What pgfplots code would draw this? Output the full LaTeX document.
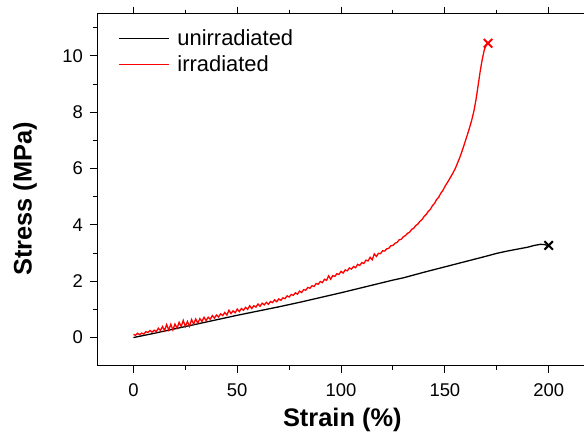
\documentclass[border=0pt]{standalone}
\usepackage{fontspec}
\setmainfont{Liberation Sans}
\usepackage{pgfplots}
\pgfplotsset{compat=1.18}
% long legend sample line, defined here so that #1 is not doubled inside the axis options
\pgfplotsset{longline/.style={legend image code/.code={\draw[#1] (0bp,0bp) -- (50bp,0bp); \path (56bp,0bp);}}}

\begin{document}
\begin{tikzpicture}[x=1bp,y=1bp]
\useasboundingbox (0,0) rectangle (584,434);
\begin{axis}[at={(97.3bp,68.3bp)}, anchor=south west, scale only axis,
  width=490bp, height=352bp,
  xmin=-17.4, xmax=218.6, ymin=-1, ymax=11.5,
  xtick={0,50,...,200}, minor xtick={25,75,...,175},
  ytick={0,2,...,10}, minor ytick={1,3,...,11},
  tick align=outside, major tick length=7bp, minor tick length=4bp,
  axis line style={line width=1bp}, every tick/.style={line width=1bp, black},
  /pgf/number format/assume math mode=true,
  tick label style={font=\fontsize{18.5}{20}\selectfont},
  xticklabel style={yshift=-7bp}, yticklabel style={xshift=-4bp},
  label style={font=\fontsize{25.5}{28}\selectfont\bfseries},
  xlabel={Strain (\%)}, ylabel={Stress (MPa)},
  xlabel style={at={(axis description cs:0.5,-0.174)}, anchor=base},
  ylabel style={at={(axis description cs:-0.1476,0.474)}, anchor=center},
  legend style={at={(axis description cs:0.036,0.9665)}, anchor=north west, draw=none, fill=none,
    font=\fontsize{22}{26}\selectfont, row sep=4.5bp},
  legend cell align=left,
  longline,
]
\addplot[black, line width=1.3bp] coordinates {
(0,0) (10,0.15) (20,0.31) (30,0.47) (40,0.63) (50,0.79) (60,0.94) (70,1.09) (75,1.17) (80,1.25)
(90,1.42) (100,1.59) (110,1.77) (120,1.95) (125,2.04) (130,2.12) (140,2.32) (150,2.51) (160,2.70)
(170,2.89) (175,2.99) (180,3.07) (185,3.14) (190,3.21) (193,3.27) (196,3.31) (198,3.30) (199.5,3.27)
};
\addlegendentry{unirradiated}
\addplot[red, line width=1.3bp] coordinates {
(0,0.11) (1,0.08) (2,0.15) (3,0.10) (4,0.16) (5,0.12) (6,0.21) (7,0.18) (8,0.25) (9,0.19) (10,0.26)
(11,0.21) (12,0.33) (13,0.25) (14,0.39) (15,0.25) (16,0.46) (17,0.27) (18,0.47) (19,0.27) (20,0.48)
(21,0.33) (22,0.54) (23,0.39) (24,0.61) (25,0.39) (26,0.57) (27,0.40) (28,0.64) (29,0.48) (30,0.66)
(31,0.51) (32,0.67) (33,0.57) (34,0.72) (35,0.60) (36,0.72) (37,0.65) (38,0.78) (39,0.69) (40,0.80)
(41,0.73) (42,0.84) (43,0.78) (44,0.89) (45,0.80) (46,0.97) (47,0.85) (48,0.95) (49,0.88) (50,1.01)
(51,0.92) (52,1.03) (53,0.97) (54,1.07) (55,1.00) (56,1.13) (57,1.03) (58,1.13) (59,1.08) (60,1.19)
(61,1.11) (62,1.22) (63,1.16) (64,1.25) (65,1.18) (66,1.28) (67,1.24) (68,1.34) (69,1.27) (70,1.37)
(71,1.32) (72,1.41) (73,1.38) (74,1.48) (75,1.44) (76,1.53) (77,1.50) (78,1.59) (79,1.54) (80,1.65)
(81,1.60) (82,1.70) (83,1.68) (84,1.78) (85,1.75) (86,1.84) (87,1.81) (88,1.92) (89,1.89) (90,1.99)
(91,1.95) (92,2.07) (93,2.03) (94,2.19) (95,2.07) (96,2.20) (97,2.17) (98,2.27) (99,2.24) (100,2.35)
(101,2.29) (102,2.40) (103,2.37) (104,2.47) (105,2.43) (106,2.52) (107,2.48) (108,2.60) (109,2.56) (110,2.66)
(111,2.63) (112,2.75) (113,2.72) (114,2.85) (115,2.76) (116,2.97) (117,2.88) (118,2.99) (119,2.98) (120,3.08)
(121,3.07) (122,3.15) (123,3.17) (124,3.26) (125,3.27) (126,3.35) (127,3.38) (128,3.47) (129,3.49) (130,3.58)
(131,3.62) (132,3.70) (133,3.74) (134,3.84) (135,3.88) (136,3.98) (137,4.03) (138,4.13) (139,4.19) (140,4.30)
(141,4.37) (142,4.48) (143,4.55) (144,4.68) (145,4.76) (146,4.90) (147,4.98) (148,5.12) (149,5.22) (150,5.36)
(151,5.48) (152,5.60) (153,5.73) (154,5.86) (155,6.00) (156,6.18) (157,6.36) (158,6.56) (159,6.78) (160,7.01)
(161,7.24) (162,7.48) (163,7.74) (164,8.05) (165,8.45) (166,8.95) (167,9.45) (168,9.88) (169,10.22) (170,10.40) (170.8,10.45)
};
\addlegendentry{irradiated}
\addplot[only marks, mark=x, mark size=6bp, black, line width=2bp, forget plot] coordinates {(200,3.27)};
\addplot[only marks, mark=x, mark size=6bp, red, line width=2bp, forget plot] coordinates {(170.8,10.45)};
\end{axis}
\end{tikzpicture}
\end{document}
